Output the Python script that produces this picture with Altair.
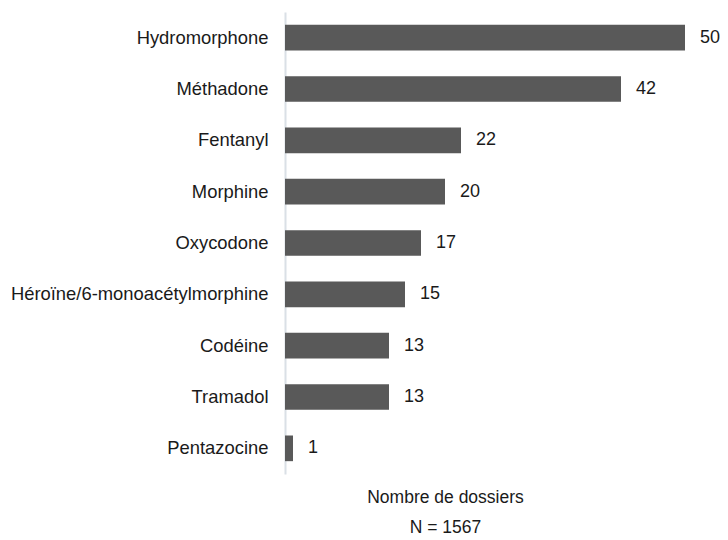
import altair as alt
import pandas as pd

categories = ["Hydromorphone", "Méthadone", "Fentanyl", "Morphine", "Oxycodone",
              "Héroïne/6-monoacétylmorphine", "Codéine", "Tramadol", "Pentazocine"]
values = [50, 42, 22, 20, 17, 15, 13, 13, 1]
axis_title = ["Nombre de dossiers", "N = 1567"]

df = pd.DataFrame({"substance": categories, "n": values})

FONT = "Liberation Sans"
FS = 18.4

y_enc = alt.Y("substance:N", sort=categories,
              scale=alt.Scale(paddingInner=0.5, paddingOuter=0.25),
              axis=alt.Axis(title=None, ticks=False, labelPadding=17, labelFontSize=FS,
                            labelFont=FONT, labelColor="#1a1a1a", domainColor="#dae0e6",
                            domainWidth=2, labelLimit=400))
x_enc = alt.X("n:Q", scale=alt.Scale(domain=[0, 50], nice=False),
              axis=alt.Axis(title=axis_title, labels=False, ticks=False, domain=False,
                            grid=False, titleFont=FONT, titleFontSize=17.5,
                            titleFontWeight="normal", titleColor="#1a1a1a",
                            titleX=160, titleY=14, titleAlign="center",
                            titleBaseline="top", titleLineHeight=30))

bars = alt.Chart(df).mark_bar(color="#595959").encode(x=x_enc, y=y_enc)
labels = alt.Chart(df).mark_text(align="left", baseline="middle", dx=15,
                                 fontSize=18, font=FONT, color="#1a1a1a").encode(
    x="n:Q", y=alt.Y("substance:N", sort=categories), text="n:Q")

chart = (bars + labels).properties(
    width=400, height=462,
    autosize=alt.AutoSizeParams(type="none"),
    padding={"left": 277, "top": 4, "right": 35, "bottom": 66},
).configure_view(stroke=None)

chart.save("out.html", embed_options={"renderer": "svg", "actions": False})
